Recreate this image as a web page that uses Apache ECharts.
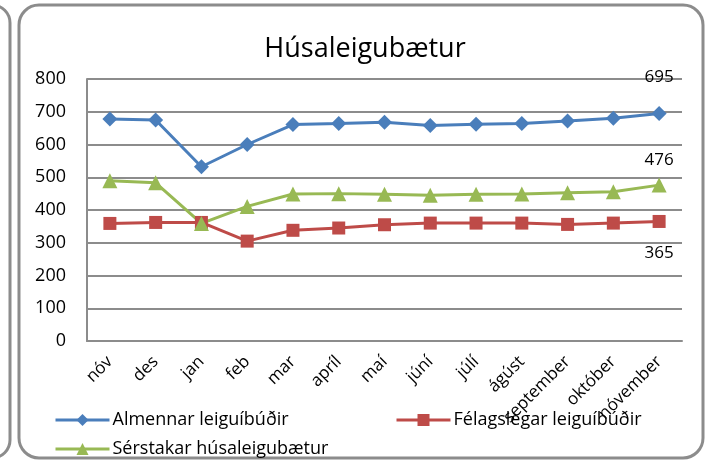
<!DOCTYPE html>
<html>
<head>
<meta charset="utf-8">
<script src="https://cdn.jsdelivr.net/npm/echarts@6/dist/echarts.min.js"></script>
<style>
  html, body { margin: 0; padding: 0; background: #fff; }
  #chart { width: 707px; height: 462px; }
</style>
</head>
<body>
<div id="chart"></div>
<script>
const months = ["nóv", "des", "jan", "feb", "mar", "apríl", "maí", "júní", "júlí", "ágúst", "september", "október", "nóvember"];
const almennar = [678, 675, 532, 600, 661, 664, 668, 658, 662, 664, 672, 680, 695];
const felagslegar = [359, 362, 362, 305, 338, 345, 355, 360, 360, 360, 356, 360, 365];
const serstakar = [489, 483, 359, 411, 449, 450, 448, 445, 448, 449, 453, 456, 476];
const yTicks = [0, 100, 200, 300, 400, 500, 600, 700, 800];

const font = "'Open Sans', 'Liberation Sans', sans-serif";
const chart = echarts.init(document.getElementById("chart"), null, { renderer: "canvas" });

// only the last point carries a value label
const lastLabel = (pos, dist) => ({
  show: true,
  position: pos,
  distance: dist,
  color: "#000",
  fontSize: 17,
  fontFamily: font,
  formatter: (p) => (p.dataIndex === months.length - 1 ? p.value : ""),
});

const legendBase = {
  orient: "horizontal",
  itemWidth: 54,
  itemHeight: 15,
  itemGap: 4,
  lineStyle: { width: 3 },
  textStyle: { color: "#000", fontSize: 18, fontFamily: font, padding: [0, 0, 0, -2] },
};

chart.setOption({
  backgroundColor: "#fff",
  animation: false,
  title: {
    text: "Húsaleigubætur",
    left: 360,
    top: 31,
    textAlign: "center",
    textStyle: { color: "#000", fontSize: 27, fontWeight: "normal", fontFamily: font },
  },
  graphic: [
    { type: "rect", shape: { x: -40, y: 5, width: 50, height: 453, r: 18 },
      style: { fill: "none", stroke: "#8c8c8c", lineWidth: 3 } },
    { type: "rect", shape: { x: 19, y: 5, width: 684, height: 453, r: 20 },
      style: { fill: "none", stroke: "#8c8c8c", lineWidth: 3 } },
  ],
  legend: [
    Object.assign({}, legendBase, { data: ["Almennar leiguíbúðir"], left: 49, top: 406 }),
    Object.assign({}, legendBase, { data: ["Félagslegar leiguíbúðir"], left: 390, top: 406 }),
    Object.assign({}, legendBase, { data: ["Sérstakar húsaleigubætur"], left: 49, top: 435 }),
  ],
  grid: { left: 87, right: 25, top: 79, bottom: 121 },
  xAxis: {
    type: "category",
    data: months,
    boundaryGap: true,
    axisLine: { lineStyle: { color: "#8c8c8c", width: 2 } },
    axisTick: { show: false },
    axisLabel: { rotate: 45, color: "#000", fontSize: 17, fontFamily: font, margin: 18, interval: 0 },
  },
  yAxis: {
    type: "value",
    min: 0,
    max: 800,
    interval: 100,
    axisLine: { show: true, lineStyle: { color: "#8c8c8c", width: 2 } },
    axisTick: { show: false },
    splitLine: { lineStyle: { color: "#8c8c8c", width: 2 } },
    axisLabel: {
      color: "#000", fontSize: 18, fontFamily: font, margin: 21,
      formatter: (v) => (yTicks.includes(v) ? String(v) : ""),
    },
  },
  series: [
    {
      name: "Almennar leiguíbúðir",
      type: "line",
      data: almennar,
      color: "#4A7EBB",
      symbol: "diamond",
      symbolSize: 15,
      lineStyle: { width: 3 },
      label: lastLabel("top", 20),
    },
    {
      name: "Félagslegar leiguíbúðir",
      type: "line",
      data: felagslegar,
      color: "#BE4B48",
      symbol: "rect",
      symbolSize: 13,
      lineStyle: { width: 3 },
      label: lastLabel("bottom", 17),
    },
    {
      name: "Sérstakar húsaleigubætur",
      type: "line",
      data: serstakar,
      color: "#98B954",
      symbol: "triangle",
      symbolSize: 15,
      lineStyle: { width: 3 },
      label: lastLabel("top", 9),
    },
  ],
});
</script>
</body>
</html>
